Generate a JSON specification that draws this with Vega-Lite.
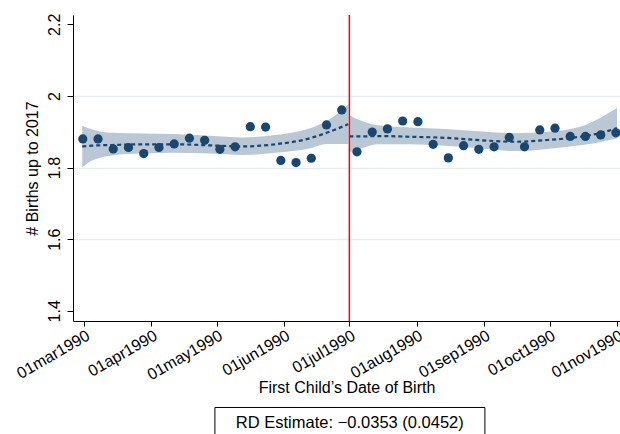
{
  "$schema": "https://vega.github.io/schema/vega-lite/v6.json",
  "autosize": "none",
  "width": 547,
  "height": 306,
  "padding": {"left": 73, "top": 15, "right": 0, "bottom": 113},
  "config": {
    "view": {"stroke": null},
    "font": "Liberation Sans",
    "axis": {
      "domainColor": "black",
      "tickColor": "black",
      "labelColor": "black",
      "titleColor": "black",
      "labelFont": "Liberation Sans",
      "titleFont": "Liberation Sans",
      "titleFontWeight": "normal",
      "labelFontSize": 16,
      "titleFontSize": 16
    }
  },
  "datasets": {
    "bins": [
      {"date": "1990-02-28T12:00:00Z", "births": 1.880},
      {"date": "1990-03-07T12:00:00Z", "births": 1.880},
      {"date": "1990-03-14T12:00:00Z", "births": 1.852},
      {"date": "1990-03-21T12:00:00Z", "births": 1.856},
      {"date": "1990-03-28T12:00:00Z", "births": 1.839},
      {"date": "1990-04-04T12:00:00Z", "births": 1.856},
      {"date": "1990-04-11T12:00:00Z", "births": 1.866},
      {"date": "1990-04-18T12:00:00Z", "births": 1.882},
      {"date": "1990-04-25T12:00:00Z", "births": 1.876},
      {"date": "1990-05-02T12:00:00Z", "births": 1.851},
      {"date": "1990-05-09T12:00:00Z", "births": 1.858},
      {"date": "1990-05-16T12:00:00Z", "births": 1.914},
      {"date": "1990-05-23T12:00:00Z", "births": 1.913},
      {"date": "1990-05-30T12:00:00Z", "births": 1.820},
      {"date": "1990-06-06T12:00:00Z", "births": 1.814},
      {"date": "1990-06-13T12:00:00Z", "births": 1.826},
      {"date": "1990-06-20T12:00:00Z", "births": 1.919},
      {"date": "1990-06-27T12:00:00Z", "births": 1.961},
      {"date": "1990-07-04T12:00:00Z", "births": 1.844},
      {"date": "1990-07-11T12:00:00Z", "births": 1.899},
      {"date": "1990-07-18T12:00:00Z", "births": 1.908},
      {"date": "1990-07-25T12:00:00Z", "births": 1.930},
      {"date": "1990-08-01T12:00:00Z", "births": 1.928},
      {"date": "1990-08-08T12:00:00Z", "births": 1.865},
      {"date": "1990-08-15T12:00:00Z", "births": 1.827},
      {"date": "1990-08-22T12:00:00Z", "births": 1.861},
      {"date": "1990-08-29T12:00:00Z", "births": 1.851},
      {"date": "1990-09-05T12:00:00Z", "births": 1.858},
      {"date": "1990-09-12T12:00:00Z", "births": 1.884},
      {"date": "1990-09-19T12:00:00Z", "births": 1.858},
      {"date": "1990-09-26T12:00:00Z", "births": 1.905},
      {"date": "1990-10-03T12:00:00Z", "births": 1.910},
      {"date": "1990-10-10T12:00:00Z", "births": 1.887},
      {"date": "1990-10-17T12:00:00Z", "births": 1.887},
      {"date": "1990-10-24T12:00:00Z", "births": 1.891},
      {"date": "1990-10-31T12:00:00Z", "births": 1.897}
    ],
    "fit": [
      {"side": "left", "date": "1990-02-28T06:00:00Z", "fit": 1.859, "lo": 1.801, "hi": 1.917},
      {"side": "left", "date": "1990-03-04T12:00:00Z", "fit": 1.861, "lo": 1.819, "hi": 1.907},
      {"side": "left", "date": "1990-03-14T00:00:00Z", "fit": 1.863, "lo": 1.834, "hi": 1.897},
      {"side": "left", "date": "1990-03-28T00:00:00Z", "fit": 1.865, "lo": 1.839, "hi": 1.895},
      {"side": "left", "date": "1990-04-11T00:00:00Z", "fit": 1.865, "lo": 1.841, "hi": 1.894},
      {"side": "left", "date": "1990-04-28T00:00:00Z", "fit": 1.862, "lo": 1.839, "hi": 1.889},
      {"side": "left", "date": "1990-05-13T00:00:00Z", "fit": 1.859, "lo": 1.835, "hi": 1.884},
      {"side": "left", "date": "1990-05-28T00:00:00Z", "fit": 1.865, "lo": 1.841, "hi": 1.891},
      {"side": "left", "date": "1990-06-13T00:00:00Z", "fit": 1.882, "lo": 1.854, "hi": 1.910},
      {"side": "left", "date": "1990-06-20T12:00:00Z", "fit": 1.897, "lo": 1.866, "hi": 1.929},
      {"side": "left", "date": "1990-06-30T12:00:00Z", "fit": 1.921, "lo": 1.866, "hi": 1.976},
      {"side": "right", "date": "1990-07-01T00:00:00Z", "fit": 1.887, "lo": 1.842, "hi": 1.946},
      {"side": "right", "date": "1990-07-08T00:00:00Z", "fit": 1.887, "lo": 1.857, "hi": 1.927},
      {"side": "right", "date": "1990-07-14T00:00:00Z", "fit": 1.888, "lo": 1.865, "hi": 1.918},
      {"side": "right", "date": "1990-07-29T00:00:00Z", "fit": 1.886, "lo": 1.865, "hi": 1.912},
      {"side": "right", "date": "1990-08-14T00:00:00Z", "fit": 1.883, "lo": 1.861, "hi": 1.908},
      {"side": "right", "date": "1990-08-31T00:00:00Z", "fit": 1.876, "lo": 1.853, "hi": 1.901},
      {"side": "right", "date": "1990-09-15T00:00:00Z", "fit": 1.872, "lo": 1.846, "hi": 1.896},
      {"side": "right", "date": "1990-09-30T00:00:00Z", "fit": 1.877, "lo": 1.852, "hi": 1.900},
      {"side": "right", "date": "1990-10-15T00:00:00Z", "fit": 1.886, "lo": 1.862, "hi": 1.914},
      {"side": "right", "date": "1990-10-24T00:00:00Z", "fit": 1.896, "lo": 1.871, "hi": 1.938},
      {"side": "right", "date": "1990-11-01T00:00:00Z", "fit": 1.910, "lo": 1.881, "hi": 1.966}
    ]
  },
  "encoding": {
    "x": {
      "type": "temporal",
      "scale": {
        "type": "utc",
        "domain": [
          {"year": 1990, "month": 2, "date": 24, "hours": 0, "utc": true},
          {"year": 1990, "month": 11, "date": 2, "hours": 9, "utc": true}
        ]
      },
      "axis": {
        "title": "First Child’s Date of Birth",
        "grid": false,
        "values": [
          {"year": 1990, "month": 3, "date": 1, "utc": true},
          {"year": 1990, "month": 4, "date": 1, "utc": true},
          {"year": 1990, "month": 5, "date": 1, "utc": true},
          {"year": 1990, "month": 6, "date": 1, "utc": true},
          {"year": 1990, "month": 7, "date": 1, "utc": true},
          {"year": 1990, "month": 8, "date": 1, "utc": true},
          {"year": 1990, "month": 9, "date": 1, "utc": true},
          {"year": 1990, "month": 10, "date": 1, "utc": true},
          {"year": 1990, "month": 11, "date": 1, "utc": true}
        ],
        "labelExpr": "lower(utcFormat(datum.value, '%d%b%Y'))",
        "labelAngle": -30,
        "labelAlign": "right",
        "labelBaseline": "top",
        "labelPadding": 1,
        "tickSize": 5,
        "titlePadding": -3,
        "labelOverlap": false,
        "labelFlush": false
      }
    },
    "y": {
      "type": "quantitative",
      "scale": {"domain": [1.3715, 2.226], "nice": false, "zero": false},
      "axis": {
        "title": "# Births up to 2017",
        "values": [1.4, 1.6, 1.8, 2.0, 2.2],
        "format": ".1~f",
        "labelAngle": -90,
        "labelPadding": 5,
        "tickSize": 6,
        "titlePadding": 6,
        "grid": true,
        "gridColor": {"condition": {"test": "datum.value > 2.1 || datum.value < 1.5", "value": "transparent"}, "value": "#e6eef2"},
        "gridWidth": 1.5
      }
    }
  },
  "layer": [
    {
      "data": {"name": "fit"},
      "mark": {"type": "area", "color": "#1a476f", "opacity": 0.3, "interpolate": "monotone"},
      "encoding": {
        "x": {"field": "date", "type": "temporal"},
        "y": {"field": "lo", "type": "quantitative"},
        "y2": {"field": "hi"},
        "detail": {"field": "side"}
      }
    },
    {
      "data": {"name": "fit"},
      "mark": {"type": "line", "color": "#1a476f", "strokeWidth": 2.2, "strokeDash": [4, 3], "interpolate": "monotone"},
      "encoding": {
        "x": {"field": "date", "type": "temporal"},
        "y": {"field": "fit", "type": "quantitative"},
        "detail": {"field": "side"}
      }
    },
    {
      "data": {"name": "bins"},
      "mark": {"type": "point", "filled": true, "opacity": 1, "color": "#1a476f", "size": 85},
      "encoding": {
        "x": {"field": "date", "type": "temporal"},
        "y": {"field": "births", "type": "quantitative"}
      }
    },
    {
      "data": {"values": [{}]},
      "mark": {"type": "rule", "stroke": "#ff0000", "color": "#ff0000", "strokeWidth": 1.5, "opacity": 1},
      "encoding": {
        "x": {"datum": {"year": 1990, "month": 7, "date": 1, "utc": true}, "type": "temporal"}
      }
    },
    {
      "data": {"values": [{}]},
      "mark": {"type": "rect", "fill": "white", "stroke": "black", "strokeWidth": 1},
      "encoding": {
        "x": {"datum": {"year": 1990, "month": 4, "date": 30, "hours": 5, "utc": true}, "type": "temporal"},
        "x2": {"datum": {"year": 1990, "month": 9, "date": 1, "hours": 7, "utc": true}},
        "y": {"datum": 1.13, "type": "quantitative"},
        "y2": {"datum": 1.0}
      }
    },
    {
      "data": {"values": [{"note": "RD Estimate: −0.0353 (0.0452)"}]},
      "mark": {"type": "text", "fontSize": 16.5, "color": "black", "align": "center", "baseline": "middle", "font": "Liberation Sans"},
      "encoding": {
        "x": {"datum": {"year": 1990, "month": 7, "date": 1, "hours": 5, "utc": true}, "type": "temporal"},
        "y": {"datum": 1.087, "type": "quantitative"},
        "text": {"field": "note"}
      }
    }
  ]
}
